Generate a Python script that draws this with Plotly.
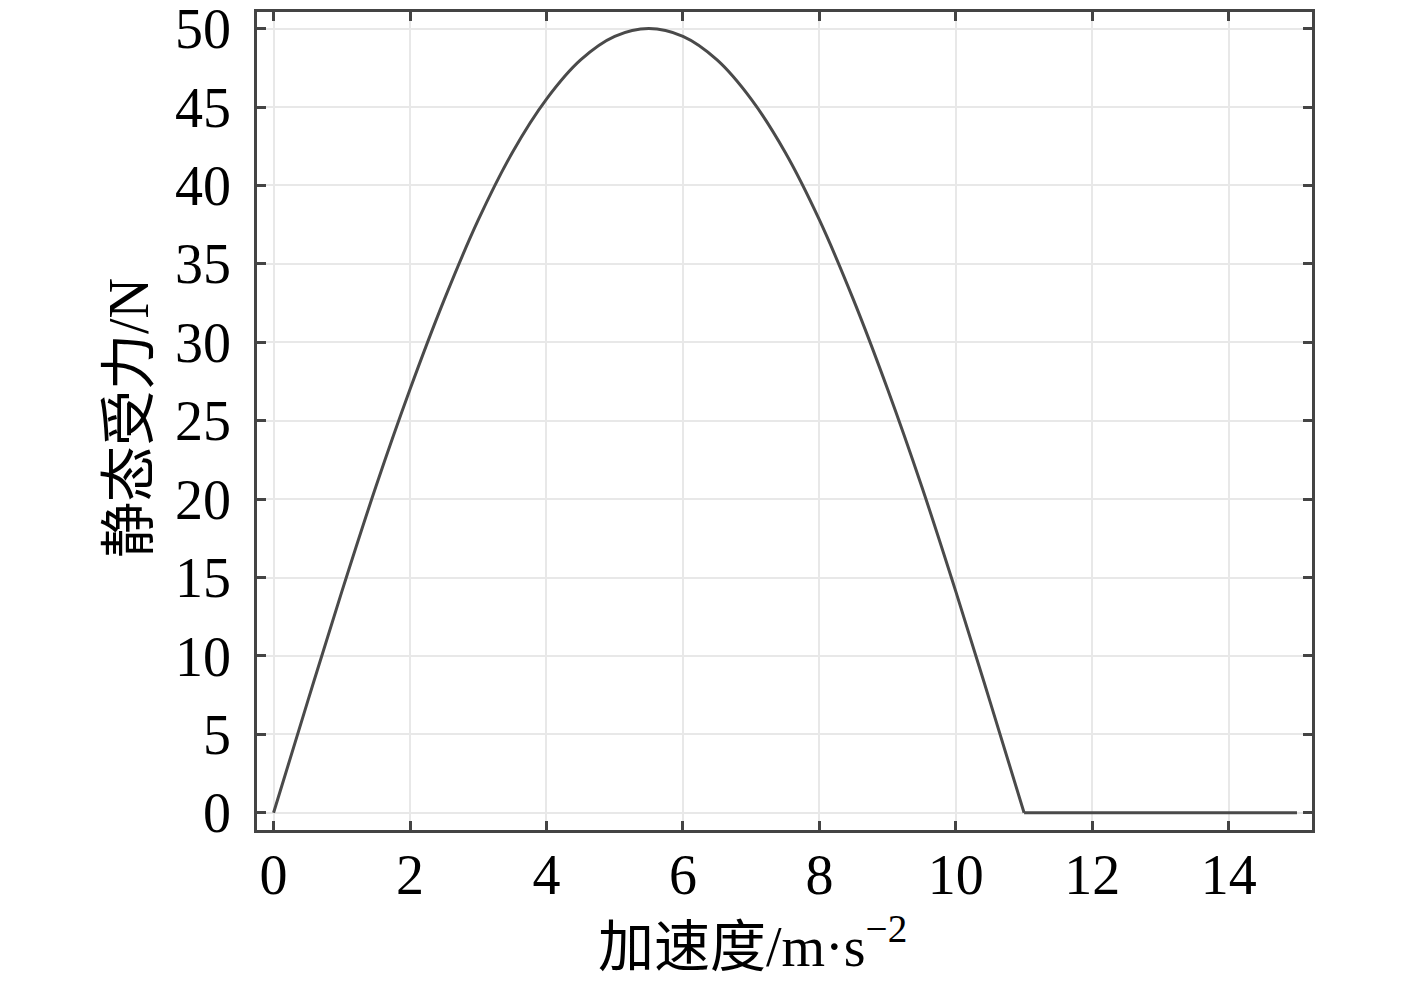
import plotly.graph_objects as go

# values
accel = [0, 0.5, 1, 1.5, 2, 2.5, 3, 3.5, 4, 4.5, 5, 5.5,
         6, 6.5, 7, 7.5, 8, 8.5, 9, 9.5, 10, 10.5, 11]
force = [0, 7.1, 14.1, 20.8, 27.0, 32.7, 37.8, 42.1, 45.5, 48.0, 49.5, 50.0,
         49.5, 48.0, 45.5, 42.1, 37.8, 32.7, 27.0, 20.8, 14.1, 7.1, 0]
flat_accel = [11, 15]
flat_force = [0, 0]

x_ticks = [0, 2, 4, 6, 8, 10, 12, 14]
y_ticks = [0, 5, 10, 15, 20, 25, 30, 35, 40, 45, 50]

font_family = "Liberation Serif, Times New Roman, Noto Sans CJK SC, serif"
line_color = "#4a4a4a"

fig = go.Figure()
fig.add_trace(go.Scatter(x=accel, y=force, mode="lines",
                         line=dict(color=line_color, width=3, shape="spline"),
                         showlegend=False))
fig.add_trace(go.Scatter(x=flat_accel, y=flat_force, mode="lines",
                         line=dict(color=line_color, width=3),
                         showlegend=False))

axis_common = dict(
    showgrid=True, gridcolor="#e8e8e8", gridwidth=2,
    zeroline=False, automargin=False, ticklabeloverflow="allow",
    showline=True, linecolor="#444444", linewidth=2.5, mirror="ticks",
    ticks="inside", ticklen=9, tickwidth=2.5, tickcolor="#444444",
    tickfont=dict(family=font_family, size=56, color="#000000"),
)

fig.update_xaxes(range=[-0.243, 15.22], tickvals=x_ticks, ticklabelstandoff=-6, **axis_common)
fig.update_yaxes(range=[-1.1, 51.06], tickvals=y_ticks, ticklabelstandoff=12, **axis_common)

fig.add_annotation(text="加速度/m·s<sup>−2</sup>", xref="paper", yref="paper",
                   x=0.47, y=-0.137, xanchor="center", yanchor="middle",
                   showarrow=False, font=dict(family=font_family, size=56, color="#000000"))
fig.add_annotation(text="静态受力/N", xref="paper", yref="paper",
                   x=-0.122, y=0.504, xanchor="center", yanchor="middle", textangle=-90,
                   showarrow=False, font=dict(family=font_family, size=56, color="#000000"))

# page body has an 8px margin, so the figure is shrunk by that amount
fig.update_layout(
    width=1409, height=975,
    margin=dict(l=249, r=105, t=4, b=153),
    plot_bgcolor="white", paper_bgcolor="white",
)

fig.write_html("out.html")
